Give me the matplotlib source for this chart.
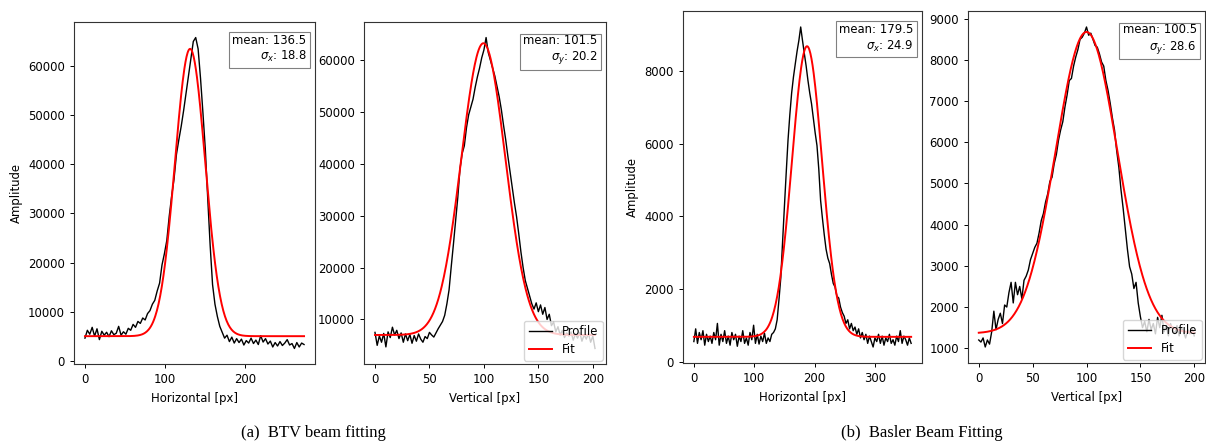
import numpy as np
import matplotlib
matplotlib.use("Agg")
import matplotlib.pyplot as plt

# profile data (one value every `step` px)
btv_h_step = 3
btv_h = [4600, 6200, 5400, 6800, 5000, 6500, 4300, 6000, 5200, 5800,
         4900, 6100, 5300, 5600, 7000, 5200, 5900, 5400, 6600, 6200,
         7400, 6800, 8000, 7600, 8700, 8300, 9600, 10200, 11500, 12300,
         14200, 15800, 19500, 21800, 24500, 29400, 33500, 37000, 42000, 45000,
         47800, 51000, 54500, 58000, 61500, 65000, 65800, 63500, 57500, 50500,
         43000, 33000, 23500, 15500, 11500, 9000, 7000, 5800, 4600, 5200,
         3900, 4800, 3600, 4500, 3700, 4400, 3200, 4100, 3600, 4600,
         3500, 4200, 3300, 5100, 3800, 4500, 3400, 4000, 2800, 3700,
         3000, 3900, 3100, 3600, 4300, 3200, 3500, 2500, 3700, 2800,
         3600, 3300]

btv_v_step = 2
btv_v = [7500, 5000, 6800, 5600, 7300, 4700, 7600, 6500, 8500, 7000,
         7900, 6300, 7400, 5600, 7200, 5900, 7100, 5400, 6900, 5800,
         7200, 6200, 5600, 6700, 6300, 7500, 7000, 6600, 7400, 8200,
         8900, 9600, 10800, 13000, 15700, 20200, 24500, 29000, 33500, 39000,
         42000, 43500, 47000, 49500, 51000, 52500, 54800, 56800, 58500, 60500,
         62000, 64400, 61500, 60000, 58500, 57000, 55000, 53000, 50500, 47500,
         44700, 41500, 38500, 35500, 32500, 29800, 26500, 23000, 20000, 17500,
         16000, 14500, 13000, 12000, 13200, 11500, 12800, 11000, 12300, 10000,
         11000, 8800, 9500, 7600, 8600, 7000, 7900, 6500, 7400, 6800,
         7600, 6000, 7200, 6400, 7500, 5800, 7000, 6200, 7300, 5600,
         6800, 4400]

basler_h_step = 3
basler_h = [550, 900, 500, 800, 600, 850, 450, 750, 550, 700,
            500, 800, 600, 1050, 450, 750, 550, 850, 500, 700,
            450, 800, 600, 750, 420, 700, 550, 850, 500, 650,
            450, 800, 600, 1000, 500, 750, 480, 700, 550, 780,
            500, 650, 550, 750, 800, 900, 1150, 1700, 2300, 3300,
            4260, 5200, 6100, 6800, 7400, 7840, 8200, 8550, 8850, 9220,
            8850, 8490, 8150, 7750, 7400, 7100, 6700, 6300, 5950, 5300,
            4440, 3950, 3500, 3100, 2850, 2700, 2400, 2150, 2050, 1800,
            1750, 1500, 1350, 1250, 1050, 1150, 900, 1050, 850, 950,
            750, 900, 650, 800, 600, 750, 500, 700, 550, 400,
            650, 550, 750, 500, 700, 450, 650, 550, 750, 500,
            600, 450, 700, 550, 850, 500, 700, 600, 450, 650,
            500]

basler_v_step = 2
basler_v = [1200, 1150, 1250, 1030, 1200, 1100, 1400, 1900, 1450, 1700,
            1850, 1600, 2050, 2000, 2350, 2600, 2100, 2600, 2300, 2500,
            2200, 2650, 2750, 2900, 3150, 3300, 3450, 3550, 3800, 4100,
            4270, 4550, 4750, 5050, 5150, 5480, 5700, 6050, 6300, 6500,
            6860, 7150, 7500, 7550, 7850, 8070, 8250, 8500, 8550, 8650,
            8800, 8600, 8650, 8500, 8350, 8310, 8150, 7950, 7850, 7500,
            7260, 6950, 6600, 6300, 5800, 5400, 4850, 4400, 3900, 3400,
            2980, 2800, 2450, 2600, 2100, 1770, 1500, 1650, 1400, 1700,
            1450, 1600, 1350, 1750, 1500, 1800, 1400, 1550, 1300, 1600,
            1450, 1350, 1550, 1300, 1500, 1400, 1250, 1450, 1350, 1500,
            1300]

# fit parameters: amplitude, centre, sigma, offset
btv_h_fit = (58500, 131.0, 18.8, 5000)
btv_v_fit = (56300, 99.5, 20.2, 7000)
basler_h_fit = (8010, 187.5, 24.9, 680)
basler_v_fit = (7320, 100.0, 28.6, 1360)

# numbers shown in the boxes
btv_h_mean, btv_h_sigma = 136.5, 18.8
btv_v_mean, btv_v_sigma = 101.5, 20.2
basler_h_mean, basler_h_sigma = 179.5, 24.9
basler_v_mean, basler_v_sigma = 100.5, 28.6

captions = ["(a)  BTV beam fitting", "(b)  Basler Beam Fitting"]

FS = 8.4
plt.rcParams['font.size'] = FS

fig = plt.figure(figsize=(12.06, 4.47), dpi=100)
W, H = 1206, 447


def px_axes(left, top, right, bottom):
    return fig.add_axes([left / W, 1 - bottom / H, (right - left) / W, (bottom - top) / H])


def draw(ax, vals, step, fit, mean, sigma, sub, xlabel, ylabel=None, legend=False):
    x = np.arange(len(vals)) * step
    xf = np.linspace(0, x[-1], 400)
    a, mu, sg, off = fit
    yf = a * np.exp(-(xf - mu) ** 2 / (2 * sg ** 2)) + off
    ax.plot(x, vals, color='black', lw=1.0, label='Profile')
    ax.plot(xf, yf, color='red', lw=1.4, label='Fit')
    ax.set_xlabel(xlabel, fontsize=FS)
    if ylabel:
        ax.set_ylabel(ylabel, fontsize=FS)
    ax.tick_params(labelsize=FS, length=3, width=0.7)
    for s in ax.spines.values():
        s.set_linewidth(0.8)
        s.set_color('#333333')
    ax.text(0.965, 0.965, f"mean: {mean}\n$\\sigma_{sub}$: {sigma}",
            transform=ax.transAxes, ha='right', va='top', multialignment='right',
            fontsize=FS, bbox=dict(boxstyle='square,pad=0.3', fc='white', ec='gray', lw=0.8))
    if legend:
        ax.legend(loc='lower right', fontsize=FS, handlelength=2.0, borderpad=0.4,
                  labelspacing=0.4, borderaxespad=0.3)


ax1 = px_axes(74, 22, 315, 364)
ax2 = px_axes(364, 22, 606, 364)
ax3 = px_axes(683, 11, 922, 363)
ax4 = px_axes(968, 11, 1205, 363)

draw(ax1, btv_h, btv_h_step, btv_h_fit, btv_h_mean, btv_h_sigma, 'x', 'Horizontal [px]', 'Amplitude')
draw(ax2, btv_v, btv_v_step, btv_v_fit, btv_v_mean, btv_v_sigma, 'y', 'Vertical [px]', legend=True)
draw(ax3, basler_h, basler_h_step, basler_h_fit, basler_h_mean, basler_h_sigma, 'x', 'Horizontal [px]', 'Amplitude')
draw(ax4, basler_v, basler_v_step, basler_v_fit, basler_v_mean, basler_v_sigma, 'y', 'Vertical [px]', legend=True)

fig.text(313 / W, 1 - 433 / H, captions[0], ha='center', va='center',
         family='Liberation Serif', fontsize=12)
fig.text(922 / W, 1 - 433 / H, captions[1], ha='center', va='center',
         family='Liberation Serif', fontsize=12)

fig.savefig('out.png', dpi=100)
